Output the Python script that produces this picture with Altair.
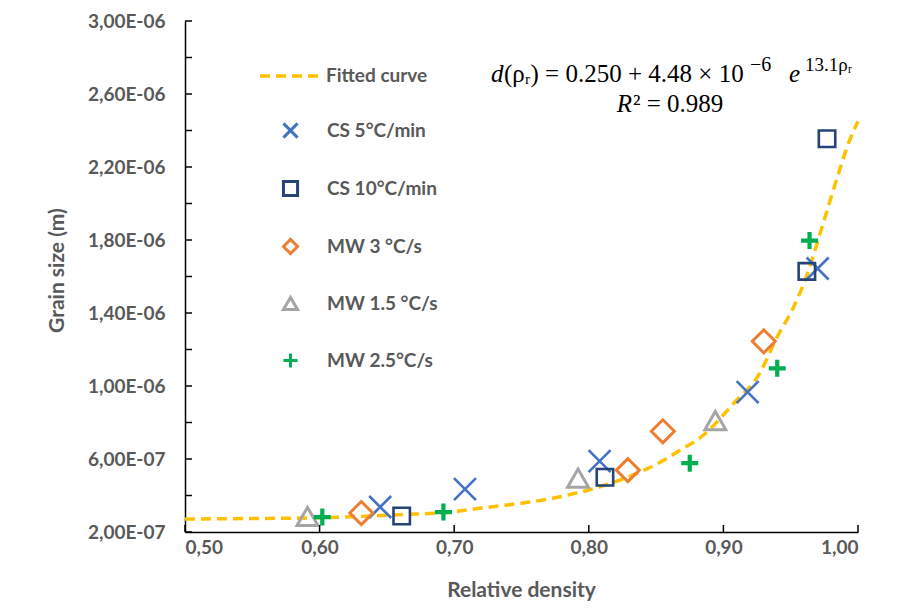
import altair as alt
import pandas as pd

# ---------------- data ----------------
series_names = ["CS 5°C/min", "CS 10°C/min", "MW 3 °C/s", "MW 1.5 °C/s", "MW 2.5°C/s"]
series_colors = ["#4472C4", "#264478", "#ED7D31", "#A5A5A5", "#00B050"]
x_path = "M-1,-1L1,1M-1,1L1,-1"
plus_path = "M-1,0L1,0M0,-1L0,1"
series_shapes = [x_path, "square", "diamond", "triangle-up", plus_path]
series_sizes = [484, 270, 530, 440, 289]
series_strokes = [2.6, 2.6, 3.0, 3.0, 4.2]

cs5_x = [0.645, 0.708, 0.808, 0.918, 0.970]
cs5_y = [3.37e-7, 4.35e-7, 5.88e-7, 9.66e-7, 1.644e-6]
cs10_x = [0.661, 0.812, 0.962, 0.977]
cs10_y = [2.875e-7, 5.00e-7, 1.628e-6, 2.355e-6]
mw3_x = [0.631, 0.829, 0.855, 0.930]
mw3_y = [3.04e-7, 5.39e-7, 7.52e-7, 1.245e-6]
mw15_x = [0.591, 0.792, 0.894]
mw15_y = [2.85e-7, 4.95e-7, 8.10e-7]
mw25_x = [0.602, 0.692, 0.875, 0.940, 0.964]
mw25_y = [2.82e-7, 3.09e-7, 5.77e-7, 1.097e-6, 1.797e-6]

fit_name = "Fitted curve"
fit_x = [0.50, 0.55, 0.60, 0.65, 0.70, 0.72, 0.75, 0.77, 0.79, 0.80, 0.825, 0.84, 0.855,
         0.866, 0.885, 0.907, 0.927, 0.94, 0.952, 0.962, 0.972, 0.984, 0.994, 1.00]
fit_y = [2.71e-7, 2.74e-7, 2.78e-7, 2.92e-7, 3.12e-7, 3.31e-7, 3.58e-7, 3.80e-7, 4.12e-7,
         4.30e-7, 4.90e-7, 5.35e-7, 5.90e-7, 6.40e-7, 7.30e-7, 9.00e-7, 1.07e-6, 1.27e-6, 1.43e-6,
         1.606e-6, 1.84e-6, 2.13e-6, 2.35e-6, 2.45e-6]

x_label_values = [0.5, 0.6, 0.7, 0.8, 0.9, 1.0]
y_label_values = [2e-7, 6e-7, 1.0e-6, 1.4e-6, 1.8e-6, 2.2e-6, 2.6e-6, 3.0e-6]
y_tick_values = [2e-7, 4e-7, 6e-7, 8e-7, 1.0e-6, 1.2e-6, 1.4e-6, 1.6e-6, 1.8e-6,
                 2.0e-6, 2.2e-6, 2.4e-6, 2.6e-6, 2.8e-6, 3.0e-6]

eq_d = "d"
eq_main = "(ρᵣ) = 0.250 + 4.48 × 10"
eq_exp1 = "−6"
eq_e = "e"
eq_exp2 = "13.1ρᵣ"
eq_R = "R"
eq_r2 = "² = 0.989"

# ---------------- tables ----------------
rows = []
for name, xs, ys in zip(series_names,
                        [cs5_x, cs10_x, mw3_x, mw15_x, mw25_x],
                        [cs5_y, cs10_y, mw3_y, mw15_y, mw25_y]):
    for a, b in zip(xs, ys):
        rows.append({"series": name, "x": a, "y": b})
pts = pd.DataFrame(rows)
fit = pd.DataFrame({"x": fit_x, "y": fit_y, "name": fit_name})
yt = pd.DataFrame({"y": y_tick_values})
xt = pd.DataFrame({"x": x_label_values})

FONT = "Lato"
GREY = "#595959"
W, H = 673, 511

xscale = alt.Scale(domain=[0.5, 1.0], nice=False, zero=False)
yscale = alt.Scale(domain=[2e-7, 3e-6], nice=False, zero=False)

x_axis = alt.Axis(values=x_label_values,
                  labelExpr="replace(format(datum.value, '.2f'), '.', ',')",
                  title="Relative density", ticks=False, grid=False,
                  domainColor="black", domainWidth=1.5,
                  labelFont=FONT, labelFontSize=19, labelFontWeight="bold", labelColor=GREY,
                  labelPadding=6,
                  titleFont=FONT, titleFontSize=21, titleFontWeight="bold", titleColor=GREY,
                  titleX=336, titleY=58, titleBaseline="middle")
y_axis = alt.Axis(values=y_label_values,
                  labelExpr="datum.value >= 9.99e-7 ? replace(format(datum.value*1e6, '.2f'), '.', ',') + 'E-06' : replace(format(datum.value*1e7, '.2f'), '.', ',') + 'E-07'",
                  title="Grain size (m)", ticks=False, grid=False,
                  domainColor="black", domainWidth=1.5,
                  labelFont=FONT, labelFontSize=19, labelFontWeight="bold", labelColor=GREY,
                  labelPadding=20,
                  titleFont=FONT, titleFontSize=21, titleFontWeight="bold", titleColor=GREY,
                  titleX=-128, titleY=249, titleAngle=-90, titleBaseline="middle", titleAlign="center")

line = alt.Chart(fit).mark_line(color="#FFC000", strokeWidth=3.5, interpolate="monotone").encode(
    x=alt.X("x:Q", scale=xscale, axis=x_axis),
    y=alt.Y("y:Q", scale=yscale, axis=y_axis),
    strokeDash=alt.StrokeDash("name:N", scale=alt.Scale(domain=[fit_name], range=[[10, 6]]),
                              legend=alt.Legend(title=None, orient="none", legendX=73, legendY=23,
                                                symbolType="stroke", symbolSize=3600,
                                                symbolStrokeColor="#FFC000", symbolStrokeWidth=3.5,
                                                labelOffset=4, labelFont=FONT, labelFontSize=19,
                                                labelFontWeight="bold", labelColor=GREY)),
)

series_legend = alt.Legend(title=None, orient="none", legendX=96, legendY=100,
                           symbolSize=200, symbolStrokeWidth=3, rowPadding=31,
                           labelOffset=27, labelFont=FONT, labelFontSize=19,
                           labelFontWeight="bold", labelColor=GREY)

point_layers = []
for name, sz, sw in zip(series_names, series_sizes, series_strokes):
    point_layers.append(
        alt.Chart(pts).transform_filter(alt.datum.series == name)
        .mark_point(filled=False, opacity=1, size=sz, strokeWidth=sw)
        .encode(
            x="x:Q",
            y="y:Q",
            color=alt.Color("series:N",
                            scale=alt.Scale(domain=series_names, range=series_colors),
                            legend=series_legend),
            shape=alt.Shape("series:N",
                            scale=alt.Scale(domain=series_names, range=series_shapes),
                            legend=series_legend),
        )
    )

yticks = alt.Chart(yt).mark_rule(color="black", strokeWidth=1.5).encode(
    y="y:Q", x=alt.value(0), x2=alt.value(7))
xticks = alt.Chart(xt).mark_rule(color="black", strokeWidth=1.5).encode(
    x="x:Q", y=alt.value(H), y2=alt.value(H - 7))

def txt(s, px, py, align="left", size=25, style="normal"):
    return alt.Chart(pd.DataFrame({"t": [s]})).mark_text(
        align=align, baseline="alphabetic", font="Liberation Serif", fontSize=size,
        fontStyle=style, color="black").encode(text="t:N", x=alt.value(px), y=alt.value(py))

eq = (txt(eq_d, 306, 61, style="italic")
      + txt(eq_main, 319, 61)
      + txt(eq_exp1, 565, 50, size=20)
      + txt(eq_e, 604, 61, style="italic")
      + txt(eq_exp2, 620, 50, size=19)
      + txt(eq_R, 447, 91, align="right", style="italic")
      + txt(eq_r2, 448, 91))

chart = alt.layer(line, *point_layers, yticks, xticks, eq).properties(
    width=W, height=H,
    padding={"left": 177, "top": 13, "right": 49, "bottom": 74},
    autosize=alt.AutoSizeParams(type="none"),
).configure_view(stroke=None)

chart.save("out.html", embed_options={"renderer": "svg", "actions": False})
